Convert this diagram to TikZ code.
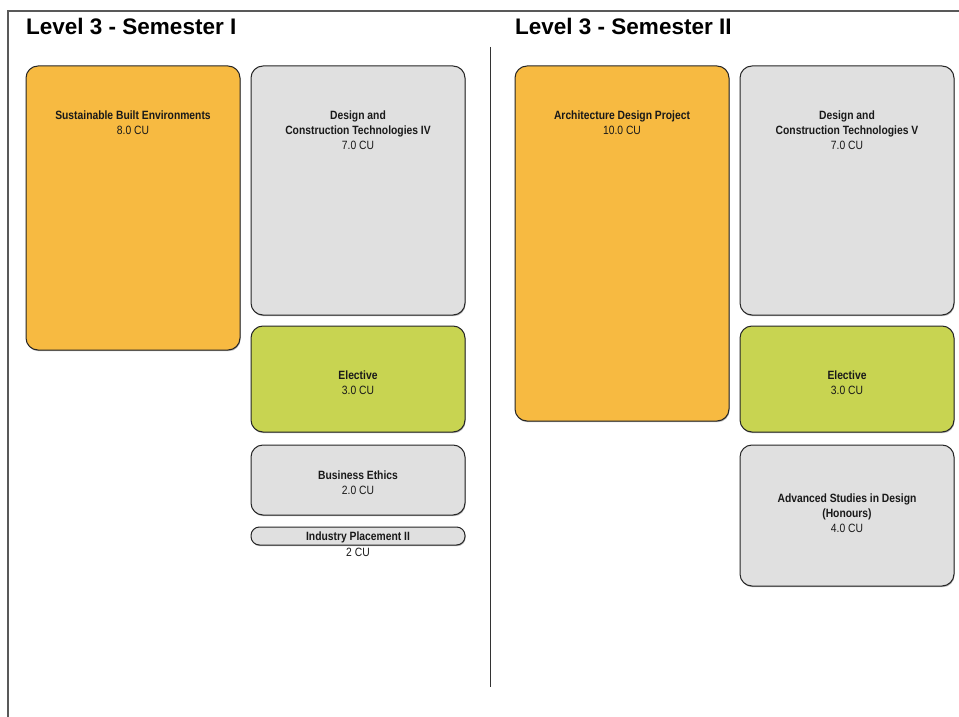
\documentclass[tikz,border=0pt]{standalone}
\usepackage{fontspec}
\setmainfont{Liberation Sans}
\newfontfamily\narrowfont[FakeStretch=0.86]{Liberation Sans}
\usetikzlibrary{shadows}
\definecolor{orangeC}{HTML}{F7BA41}
\definecolor{grayC}{HTML}{E0E0E0}
\definecolor{greenC}{HTML}{C8D451}
\begin{document}
\begin{tikzpicture}[x=1pt,y=-1pt,
  box/.style={draw=black!85, line width=1pt, rounded corners=12pt, inner sep=0pt,
    minimum width=214pt,
    drop shadow={shadow xshift=0.6pt, shadow yshift=-1.2pt, fill=black!60, opacity=0.5}},
  lbl/.style={font=\narrowfont\fontsize{12}{15}\selectfont, align=center, inner sep=0pt, text=black!90},
  head/.style={font=\bfseries\fontsize{22.5}{27}\selectfont, anchor=base west, inner sep=0pt},
  frameline/.style={line width=1.5pt, draw=black!65},
  divider/.style={line width=1pt, draw=black!80}]
\useasboundingbox (0,0) rectangle (959,717);
\fill[white] (0,0) rectangle (959,717);

% frame and divider
\draw[frameline] (8,717) -- (8,11) -- (959,11);
\draw[divider] (490,47) -- (490,687);

% headings
\node[head] (h1) at (26,35) {Level 3 - Semester I};
\node[head] (h2) at (515,35) {Level 3 - Semester II};

% Semester I
\node[box, fill=orangeC, minimum height=284pt] (sbe) at (133,208) {};
\node[lbl, anchor=north] (sbeT) at ([yshift=-45pt]sbe.north) {\textbf{Sustainable Built Environments}\\8.0 CU};

\node[box, fill=grayC, minimum height=249pt] (dct4) at (358,190.5) {};
\node[lbl, anchor=north] (dct4T) at ([yshift=-45pt]dct4.north) {\textbf{Design and}\\\textbf{Construction Technologies IV}\\7.0 CU};

\node[box, fill=greenC, minimum height=106pt] (el1) at (358,379) {};
\node[lbl] (el1T) at (358,383) {\textbf{Elective}\\3.0 CU};

\node[box, fill=grayC, minimum height=70pt] (be) at (358,480) {};
\node[lbl] (beT) at (358,483) {\textbf{Business Ethics}\\2.0 CU};

\node[box, fill=grayC, minimum height=18pt, rounded corners=8.5pt] (ip) at (358,536) {};
\node[lbl] (ipT) at (358,537) {\textbf{Industry Placement II}};
\node[lbl] (ipC) at (358,552) {2 CU};

% Semester II
\node[box, fill=orangeC, minimum height=355pt] (adp) at (622,243.5) {};
\node[lbl, anchor=north] (adpT) at ([yshift=-45pt]adp.north) {\textbf{Architecture Design Project}\\10.0 CU};

\node[box, fill=grayC, minimum height=249pt] (dct5) at (847,190.5) {};
\node[lbl, anchor=north] (dct5T) at ([yshift=-45pt]dct5.north) {\textbf{Design and}\\\textbf{Construction Technologies V}\\7.0 CU};

\node[box, fill=greenC, minimum height=106pt] (el2) at (847,379) {};
\node[lbl] (el2T) at (847,383) {\textbf{Elective}\\3.0 CU};

\node[box, fill=grayC, minimum height=141pt] (asd) at (847,515.5) {};
\node[lbl] (asdT) at (847,513) {\textbf{Advanced Studies in Design}\\\textbf{(Honours)}\\4.0 CU};
\end{tikzpicture}
\end{document}
